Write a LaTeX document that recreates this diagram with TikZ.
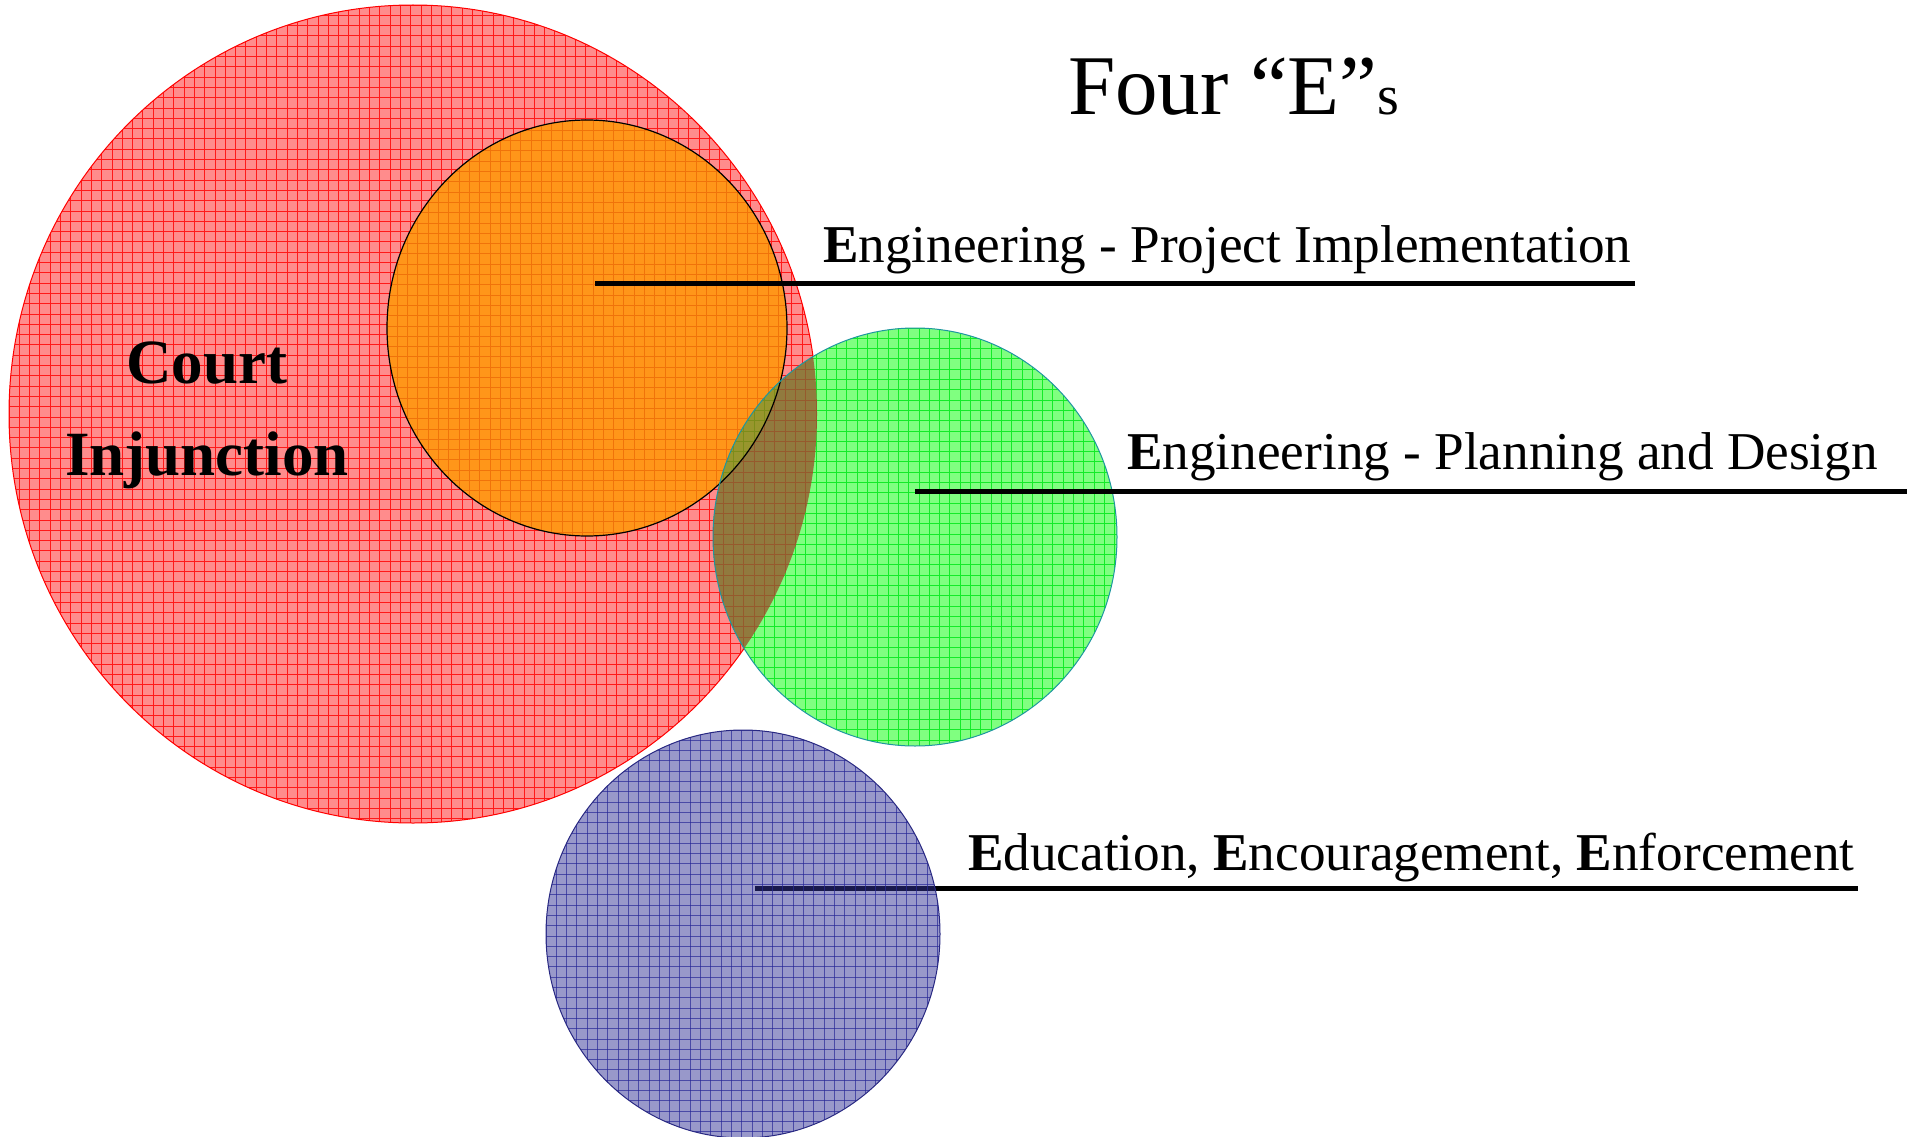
\documentclass[tikz,border=0pt]{standalone}
\usepackage{fontspec}
\setmainfont{Liberation Serif}
\definecolor{redfill}{RGB}{255,140,140}
\definecolor{redline}{RGB}{255,25,25}
\definecolor{orfill}{RGB}{255,150,25}
\definecolor{orline}{RGB}{240,115,10}
\definecolor{grfill}{RGB}{128,255,128}
\definecolor{grline}{RGB}{20,235,40}
\definecolor{grborder}{RGB}{30,150,160}
\definecolor{gorfill}{RGB}{152,150,45}
\definecolor{gorline}{RGB}{125,140,25}
\definecolor{grrfill}{RGB}{145,122,62}
\definecolor{grrline}{RGB}{150,90,45}
\definecolor{blfill}{RGB}{50,50,150}
\definecolor{blline}{RGB}{40,40,150}
\definecolor{blborder}{RGB}{40,40,130}
\newcommand{\patell}[6]{%
  \begin{scope}
    \clip (#1,#2) ellipse [x radius=#3, y radius=#4];
    \fill[#5] ({#1-#3-2},{#2-#4-2}) rectangle ({#1+#3+2},{#2+#4+2});
    \foreach \k in {0,...,80} {
      \draw[#6] ({#1-#3+\k*10.3},{#2-#4-2}) -- ({#1-#3+\k*10.3},{#2+#4+2});
      \draw[#6] ({#1-#3-2},{#2-#4+\k*10.3}) -- ({#1+#3+2},{#2-#4+\k*10.3});
    }
  \end{scope}}
\begin{document}
\begin{tikzpicture}[x=1pt,y=-1pt,
  lbl/.style={inner sep=0pt, anchor=base west, font=\fontsize{53.2}{60}\selectfont},
  courtlbl/.style={inner sep=0pt, anchor=base, font=\fontsize{63}{70}\selectfont\bfseries},
  leader/.style={line width=5pt, black},
  gl/.style={line width=0.9pt}]
\useasboundingbox (0,0) rectangle (1916,1137);
% red circle
\patell{413}{414}{404}{409}{redfill}{gl,redline}
\draw[red, line width=1pt] (413,414) ellipse [x radius=404, y radius=409];
% orange circle
\patell{587}{328}{200}{208}{orfill}{gl,orline}
\draw[black, line width=1.2pt] (587,328) ellipse [x radius=200, y radius=208];
% green circle
\patell{915}{537}{202}{209}{grfill}{gl,grline}
\begin{scope}
  \clip (413,414) ellipse [x radius=404, y radius=409];
  \patell{915}{537}{202}{209}{grrfill}{gl,grrline}
\end{scope}
\begin{scope}
  \clip (587,328) ellipse [x radius=200, y radius=208];
  \patell{915}{537}{202}{209}{gorfill}{gl,gorline}
\end{scope}
\begin{scope}
  \clip (915,537) ellipse [x radius=202, y radius=209];
  \draw[black, line width=1.2pt] (587,328) ellipse [x radius=200, y radius=208];
\end{scope}
\draw[grborder, line width=1pt] (915,537) ellipse [x radius=202, y radius=209];
% leaders
\coordinate (l1a) at (595,283); \coordinate (l1b) at (1635,283);
\coordinate (l2a) at (915,491); \coordinate (l2b) at (1907,491);
\coordinate (l3a) at (755,888); \coordinate (l3b) at (1858,888);
\draw[leader] (l1a) -- (l1b);
\draw[leader] (l2a) -- (l2b);
\draw[leader] (l3a) -- (l3b);
% blue circle
\patell{743}{934}{197}{204}{blfill,fill opacity=0.5}{gl,blline,draw opacity=0.7}
\draw[blborder, line width=1pt] (743,934) ellipse [x radius=197, y radius=204];
% texts
\node[inner sep=0pt, anchor=base west] (title) at (1068,115)
  {{\fontsize{85}{90}\selectfont Four “E”}{\fontsize{56}{60}\selectfont s}};
\node[lbl] (e1) at (823,262) {\textbf{E}ngineering - Project Implementation};
\node[lbl] (e2) at (1127,469) {\textbf{E}ngineering - Planning and Design};
\node[lbl] (e3) at (968,870) {\textbf{E}ducation, \textbf{E}ncouragement, \textbf{E}nforcement};
\node[courtlbl] (court) at (207,383) {Court};
\node[courtlbl] (inj) at (207,475) {Injunction};
\end{tikzpicture}
\end{document}
